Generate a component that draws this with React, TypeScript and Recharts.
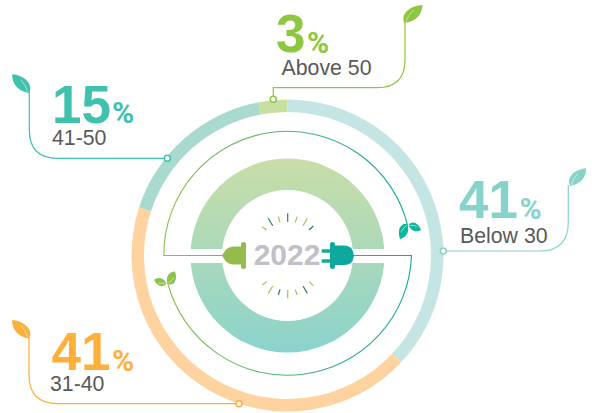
import React from "react";
import { PieChart, Pie, Cell } from "recharts";

const W = 592;
const H = 413;
const CX = 287.5;
const CY = 255.5;

const categories = ["Below 30", "31-40", "41-50", "Above 50"];
const arcShares = [37, 43, 17, 3];
const arcColors = ["#C4E5E3", "#FED3A0", "#A8DAD0", "#C7DFA0"];
const hubHalves = [50, 50];

const FONT = "'Liberation Sans', Arial, sans-serif";
const GREY = "#595959";

const ringData = categories.map((name, i) => ({ name, value: arcShares[i] }));
const hubData = hubHalves.map((value, i) => ({ name: i === 0 ? "upper" : "lower", value }));

function Leaf({ x, y, tx, ty, w, fill, flip = 1 }: any) {
  const L = Math.hypot(tx - x, ty - y);
  const a = (Math.atan2(ty - y, tx - x) * 180) / Math.PI;
  const W2 = w * flip;
  return (
    <g transform={`translate(${x} ${y}) rotate(${a})`}>
      <path
        d={`M0 0 C${L * 0.12} ${-W2} ${L * 0.62} ${-W2 * 0.95} ${L} 0 C${L * 0.82} ${W2 * 0.55} ${L * 0.42} ${W2 * 0.95} 0 0 Z`}
        fill={fill}
      />
      <path d={`M${L * 0.08} 0 Q${L * 0.3} ${-W2 * 0.3} ${L * 0.62} ${-W2 * 0.3}`} stroke="#fff" strokeWidth={0.6} fill="none" opacity={0.8} />
    </g>
  );
}

function Callout({ d, dotX, dotY, color, value, label, nx, ny, px, tx, ty }: any) {
  return (
    <g fontFamily={FONT}>
      <path d={d} fill="none" stroke={color} strokeWidth={1.2} />
      <circle cx={dotX} cy={dotY} r={3} fill="#fff" stroke={color} strokeWidth={1.5} />
      <text x={nx} y={ny} fontSize={53} fontWeight={700} fill={color}>{value}</text>
      <text x={px} y={ny + 0.5} fontSize={30} fontWeight={700} fill={color} fontFamily="Roboto, sans-serif">%</text>
      <text x={tx} y={ty} fontSize={21.3} fill={GREY}>{label}</text>
    </g>
  );
}

const topTicks = [
  [262.3, 226.7, 266.7, 230, "#9CC35B"],
  [268.3, 218.3, 272.7, 225.7, "#2E7D5B"],
  [278.3, 216.7, 280, 222.3, "#9CC35B"],
  [287.7, 213.3, 287.7, 221.7, "#2E7D5B"],
  [297, 216.7, 295.3, 222.3, "#9CC35B"],
  [307.3, 218.3, 303, 225.7, "#9CC35B"],
  [313.3, 226, 309, 230, "#2E7D5B"],
];
const bottomTickColors = ["#9CC35B", "#9CC35B", "#2E7D5B", "#9CC35B", "#9CC35B", "#2E7D5B", "#9CC35B"];

function Decor() {
  return (
    <svg width={W} height={H} style={{ position: "absolute", left: 0, top: 0 }}>
      <defs>
        <linearGradient id="wireA" gradientUnits="userSpaceOnUse" x1="164" y1="0" x2="408" y2="0">
          <stop offset="0" stopColor="#8FBF4D" />
          <stop offset="1" stopColor="#0FA89E" />
        </linearGradient>
        <linearGradient id="wireB" gradientUnits="userSpaceOnUse" x1="412" y1="0" x2="167" y2="0">
          <stop offset="0" stopColor="#0FA89E" />
          <stop offset="1" stopColor="#8FBF4D" />
        </linearGradient>
      </defs>
      {/* flat gap across the inner ring */}
      <rect x={180} y={249} width={215} height={14} fill="#fff" />
      {/* wires */}
      <path d={`M224 ${CY} H163.8 A123.7 123.7 0 0 1 407.5 225`} fill="none" stroke="url(#wireA)" strokeWidth={1.1} />
      <path d={`M352 ${CY} H411.5 A124 124 0 0 1 167.7 283`} fill="none" stroke="url(#wireB)" strokeWidth={1.1} />
      {/* leaves on wires */}
      <Leaf x={407.5} y={224} tx={400} ty={239} w={7} fill="#0DB79B" flip={-1} />
      <Leaf x={408.5} y={225} tx={421} ty={230} w={6} fill="#0DB79B" />
      <Leaf x={167.5} y={284} tx={175} ty={271.5} w={7} fill="#8FBF4D" flip={-1} />
      <Leaf x={166.5} y={283} tx={154} ty={280} w={6} fill="#8FBF4D" />
      {/* plugs */}
      <path d="M222 255.5 L225.5 250 Q229 246.5 234 246.5 L241 246.5 L241 244 Q241 242 243.5 242 Q246 242 246 244 L246 267 Q246 269 243.5 269 Q241 269 241 267 L241 264.5 L234 264.5 Q229 264.5 225.5 261 Z" fill="#95BB4F" />
      <path d="M354 255.5 L352.5 250 Q350 245.5 344 245.5 L335 245.5 L335 244 Q335 242 332.5 242 Q330 242 330 244 L330 267 Q330 269 332.5 269 Q335 269 335 267 L335 265 L344 265 Q350 265 352.5 261 Z" fill="#0FA89E" />
      <rect x={321.7} y={249.3} width={8.3} height={3.4} fill="#0FA89E" />
      <rect x={321.7} y={259.3} width={8.3} height={3.4} fill="#0FA89E" />
      <text x={287} y={265} textAnchor="middle" fontFamily={FONT} fontWeight={700} fontSize={30} fill="#C0C0C6">2022</text>
      {topTicks.map((t, i) => (
        <line key={i} x1={t[0] as number} y1={t[1] as number} x2={t[2] as number} y2={t[3] as number} stroke={t[4] as string} strokeWidth={1.2} />
      ))}
      {topTicks.map((t, i) => (
        <line key={`b${i}`} x1={t[0] as number} y1={511.67 - (t[1] as number)} x2={t[2] as number} y2={511.67 - (t[3] as number)} stroke={bottomTickColors[i]} strokeWidth={1.2} />
      ))}
      {/* callouts */}
      <Callout d="M273.3 99 V87.7 H377 Q405 87.7 405 60 V23" dotX={273.3} dotY={99.3} color="#8DC63F" value="3" label={categories[3]} nx={276} ny={52} px={307} tx={281.5} ty={75} />
      <Leaf x={404.3} y={23} tx={422.3} ty={5} w={9} fill="#8DC63F" />
      <Callout d="M164 158.3 H58 Q29.3 158.3 29.3 130 V90" dotX={167.3} dotY={158.3} color="#3FC1AD" value="15" label={categories[2]} nx={52} ny={122.5} px={112} tx={52} ty={145} />
      <Leaf x={29} y={93} tx={12.3} ty={74.3} w={9} fill="#3FC1AD" flip={-1} />
      <Callout d="M446 251 H540 Q568.3 251 568.3 222 V185" dotX={443.3} dotY={251} color="#87D2C9" value="41" label={categories[0]} nx={459} ny={218} px={519.5} tx={460} ty={243.3} />
      <Leaf x={570} y={186} tx={586} ty={168.3} w={8.5} fill="#87D2C9" />
      <Callout d="M236 403.7 H58 Q29 403.7 29 375 V338" dotX={239} dotY={403.7} color="#FFB03B" value="41" label={categories[1]} nx={51.5} ny={370} px={112} tx={50} ty={391} />
      <Leaf x={29} y={338.5} tx={12.3} ty={320} w={9} fill="#FFB03B" flip={-1} />
    </svg>
  );
}

export default function App() {
  return (
    <div style={{ position: "absolute", left: 0, top: 0, width: W, height: H }}>
      <PieChart width={W} height={H} margin={{ top: 0, right: 0, bottom: 0, left: 0 }}>
        <defs>
          <linearGradient id="hub" gradientUnits="userSpaceOnUse" x1="0" y1="158" x2="0" y2="352">
            <stop offset="0" stopColor="#C9DEA8" />
            <stop offset="1" stopColor="#8BD3CC" />
          </linearGradient>
        </defs>
        <Pie
          data={ringData}
          dataKey="value"
          nameKey="name"
          cx={CX}
          cy={CY}
          innerRadius={143.5}
          outerRadius={156}
          startAngle={90}
          endAngle={-270}
          stroke="none"
          isAnimationActive={false}
        >
          {ringData.map((d, i) => (
            <Cell key={d.name} fill={arcColors[i]} />
          ))}
        </Pie>
        <Pie
          data={hubData}
          dataKey="value"
          nameKey="name"
          cx={CX}
          cy={CY}
          innerRadius={65.5}
          outerRadius={97}
          startAngle={180}
          endAngle={-180}
          stroke="none"
          isAnimationActive={false}
        >
          {hubData.map((d) => (
            <Cell key={d.name} fill="url(#hub)" />
          ))}
        </Pie>
      </PieChart>
      <Decor />
    </div>
  );
}
